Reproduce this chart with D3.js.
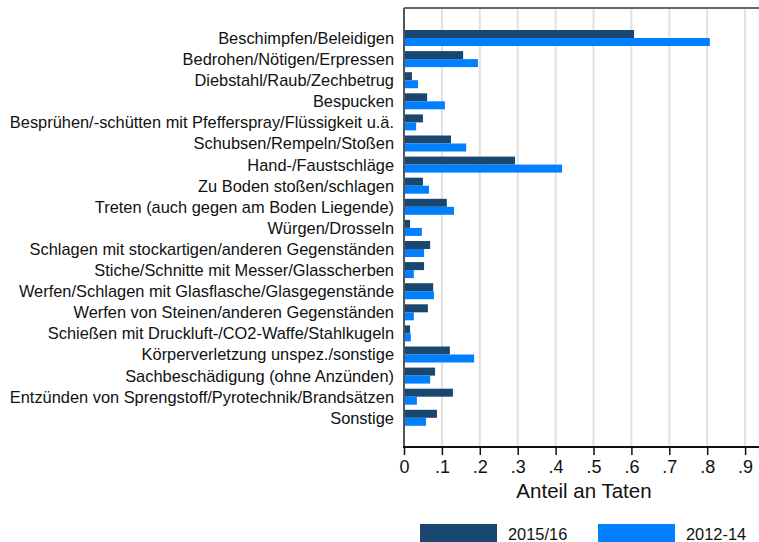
<!DOCTYPE html>
<html>
<head>
<meta charset="utf-8">
<script src="https://cdn.jsdelivr.net/npm/d3@7"></script>
<style>
  body { margin: 0; background: #fff; }
  svg { display: block; font-family: "Liberation Sans", Arial, sans-serif; }
</style>
</head>
<body>
<div id="chart"></div>
<script>
const width = 759;
const height = 542;

const categories = [
    "Beschimpfen/Beleidigen",
    "Bedrohen/Nötigen/Erpressen",
    "Diebstahl/Raub/Zechbetrug",
    "Bespucken",
    "Besprühen/-schütten mit Pfefferspray/Flüssigkeit u.ä.",
    "Schubsen/Rempeln/Stoßen",
    "Hand-/Faustschläge",
    "Zu Boden stoßen/schlagen",
    "Treten (auch gegen am Boden Liegende)",
    "Würgen/Drosseln",
    "Schlagen mit stockartigen/anderen Gegenständen",
    "Stiche/Schnitte mit Messer/Glasscherben",
    "Werfen/Schlagen mit Glasflasche/Glasgegenstände",
    "Werfen von Steinen/anderen Gegenständen",
    "Schießen mit Druckluft-/CO2-Waffe/Stahlkugeln",
    "Körperverletzung unspez./sonstige",
    "Sachbeschädigung (ohne Anzünden)",
    "Entzünden von Sprengstoff/Pyrotechnik/Brandsätzen",
    "Sonstige"
];
const values201516 = [0.607, 0.156, 0.021, 0.061, 0.050, 0.124, 0.293, 0.050, 0.113, 0.016,
    0.069, 0.053, 0.077, 0.063, 0.016, 0.121, 0.082, 0.129, 0.087];
const values201214 = [0.807, 0.195, 0.037, 0.108, 0.032, 0.164, 0.417, 0.066, 0.132, 0.047,
    0.053, 0.026, 0.079, 0.026, 0.018, 0.185, 0.069, 0.034, 0.058];
const seriesNames = ["2015/16", "2012-14"];
const xTicks = [0, 0.1, 0.2, 0.3, 0.4, 0.5, 0.6, 0.7, 0.8, 0.9];

const colors = ["#1a476f", "#0080ff"];
const plot = { left: 404, right: 759, top: 8, bottom: 447 };
const barH = 8;

const svg = d3.select("#chart").append("svg")
    .attr("width", width)
    .attr("height", height);

const x = d3.scaleLinear().domain([0, 1]).range([plot.left, plot.left + 379]);
const y = d3.scaleBand().domain(categories).range([27.45, 428.35]);

// grid lines
svg.append("g")
    .selectAll("line")
    .data(xTicks.slice(1))
    .join("line")
    .attr("x1", (d) => x(d))
    .attr("x2", (d) => x(d))
    .attr("y1", plot.top)
    .attr("y2", plot.bottom)
    .attr("stroke", "#e1e1e1")
    .attr("stroke-width", 2);

// top border
svg.append("line")
    .attr("x1", plot.left)
    .attr("x2", plot.right)
    .attr("y1", plot.top)
    .attr("y2", plot.top)
    .attr("stroke", "#666")
    .attr("stroke-width", 2);

// bars
const rows = categories.map((c, i) => ({ cat: c, vals: [values201516[i], values201214[i]] }));
const rowG = svg.append("g")
    .selectAll("g")
    .data(rows)
    .join("g")
    .attr("transform", (d) => `translate(0,${y(d.cat) + y.bandwidth() / 2})`);

rowG.selectAll("rect")
    .data((d) => d.vals)
    .join("rect")
    .attr("x", x(0))
    .attr("y", (d, i) => (i === 0 ? -barH : 0))
    .attr("width", (d) => x(d) - x(0))
    .attr("height", barH)
    .attr("fill", (d, i) => colors[i]);

// category labels
svg.append("g")
    .selectAll("text")
    .data(categories)
    .join("text")
    .attr("x", 394)
    .attr("y", (d) => y(d) + y.bandwidth() / 2)
    .attr("dy", "0.36em")
    .attr("text-anchor", "end")
    .attr("font-size", 16.4)
    .attr("fill", "#111")
    .text((d) => d);

// left axis line
svg.append("line")
    .attr("x1", plot.left)
    .attr("x2", plot.left)
    .attr("y1", plot.top)
    .attr("y2", plot.bottom)
    .attr("stroke", "#555")
    .attr("stroke-width", 2);

// x axis
const xAxis = svg.append("g")
    .attr("transform", `translate(0,${plot.bottom})`)
    .call(d3.axisBottom(x)
        .tickValues(xTicks)
        .tickSize(8)
        .tickPadding(5)
        .tickFormat((d) => (d === 0 ? "0" : d3.format(".1f")(d).replace(/^0/, ""))));
xAxis.select(".domain").remove();
xAxis.append("line")
    .attr("x1", plot.left - 1)
    .attr("x2", plot.right)
    .attr("stroke", "#111")
    .attr("stroke-width", 2);
xAxis.selectAll(".tick line").attr("stroke", "#111").attr("stroke-width", 1.5);
xAxis.selectAll(".tick text")
    .attr("font-size", 18)
    .attr("font-family", "'Liberation Sans', Arial, sans-serif")
    .attr("fill", "#111");

svg.append("text")
    .attr("x", 584)
    .attr("y", 498)
    .attr("text-anchor", "middle")
    .attr("font-size", 20.5)
    .attr("fill", "#111")
    .text("Anteil an Taten");

// legend
const legend = svg.append("g");
const legendX = [420, 598];
seriesNames.forEach((name, i) => {
    legend.append("rect")
        .attr("x", legendX[i])
        .attr("y", 524)
        .attr("width", 77)
        .attr("height", 18)
        .attr("fill", colors[i]);
    legend.append("text")
        .attr("x", legendX[i] + 88)
        .attr("y", 540)
        .attr("font-size", 16.4)
        .attr("fill", "#111")
        .text(name);
});
</script>
</body>
</html>
